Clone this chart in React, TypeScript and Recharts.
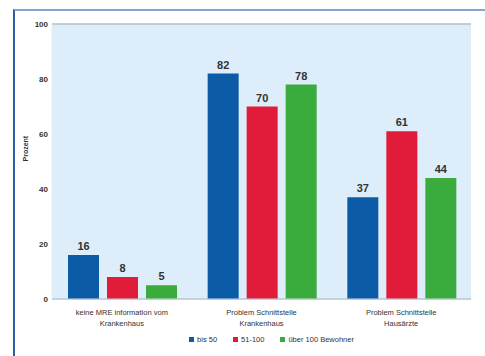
import { BarChart, Bar, XAxis, YAxis, CartesianGrid, Legend, LabelList } from "recharts";

const categories = [
  "keine MRE information vom\nKrankenhaus",
  "Problem Schnittstelle\nKrankenhaus",
  "Problem Schnittstelle\nHausärzte",
];
const bis50 = [16, 82, 37];
const bis100 = [8, 70, 61];
const ueber100 = [5, 78, 44];
const yTicks = [0, 20, 40, 60, 80, 100];

const series = [
  { key: "bis50", name: "bis 50", color: "#0c5ba6" },
  { key: "bis100", name: "51-100", color: "#e01c3a" },
  { key: "ueber100", name: "über 100 Bewohner", color: "#3aab3d" },
];

const data = categories.map((c, i) => ({
  cat: c,
  bis50: bis50[i],
  bis100: bis100[i],
  ueber100: ueber100[i],
}));

const font = "'Liberation Sans', Arial, sans-serif";

// two-line category label under each group
function CatTick({ x, y, payload }: any) {
  const lines = String(payload.value).split("\n");
  return (
    <text x={x} y={y} textAnchor="middle" fontSize={7.5} fill="#333" fontFamily={font}>
      {lines.map((l, i) => (
        <tspan key={i} x={x} dy={i === 0 ? 8 : 11}>
          {l}
        </tspan>
      ))}
    </text>
  );
}

// legend kept in series order
function SeriesLegend() {
  return (
    <div
      style={{
        display: "flex",
        justifyContent: "center",
        gap: 16,
        marginLeft: 60,
        paddingTop: 4,
        fontSize: 7.5,
        fontFamily: font,
        color: "#333",
      }}
    >
      {series.map((s) => (
        <span key={s.key} style={{ display: "flex", alignItems: "center", gap: 3 }}>
          <span style={{ width: 5, height: 5, background: s.color, display: "inline-block" }} />
          {s.name}
        </span>
      ))}
    </div>
  );
}

export default function App() {
  return (
    <div style={{ position: "absolute", left: 0, top: 0, width: 485, height: 356, background: "#fff" }}>
      <div
        style={{
          position: "absolute",
          left: 13,
          top: 9,
          width: 470,
          height: 347,
          borderTop: "2px solid #84a7cf",
          borderLeft: "2px solid #2c5fa6",
        }}
      />
      <div style={{ position: "absolute", left: 0, top: 0 }}>
        <BarChart
          width={485}
          height={356}
          data={data}
          margin={{ top: 24, right: 14, left: 12, bottom: 0 }}
          barCategoryGap={16}
          barGap={8}
        >
          <CartesianGrid vertical={false} fill="#ddeefa" stroke="#aebfce" strokeWidth={1.5} />
          <XAxis
            dataKey="cat"
            tick={<CatTick />}
            tickLine={false}
            axisLine={{ stroke: "#c9d8e4" }}
            height={32}
            interval={0}
          />
          <YAxis
            yAxisId="left"
            domain={[0, 100]}
            ticks={yTicks}
            width={40}
            tickLine={false}
            axisLine={{ stroke: "#e6eef5" }}
            tick={{ fontSize: 8, fontWeight: 700, fill: "#333", fontFamily: font }}
            tickMargin={-2}
            label={{
              value: "Prozent",
              angle: -90,
              position: "insideLeft",
              offset: 14,
              style: { fontSize: 7, fontWeight: 700, fill: "#333", fontFamily: font },
            }}
          />
          <YAxis
            yAxisId="right"
            orientation="right"
            domain={[0, 100]}
            width={0}
            tick={false}
            tickLine={false}
            axisLine={{ stroke: "#b7c3cc", strokeWidth: 1.5 }}
          />
          <Legend verticalAlign="bottom" content={<SeriesLegend />} wrapperStyle={{ height: 25 }} />
          {series.map((s) => (
            <Bar key={s.key} yAxisId="left" dataKey={s.key} name={s.name} fill={s.color} isAnimationActive={false}>
              <LabelList
                dataKey={s.key}
                position="top"
                offset={5}
                style={{ fontSize: 11, fontWeight: 700, fill: "#333", fontFamily: font }}
              />
            </Bar>
          ))}
        </BarChart>
      </div>
    </div>
  );
}
